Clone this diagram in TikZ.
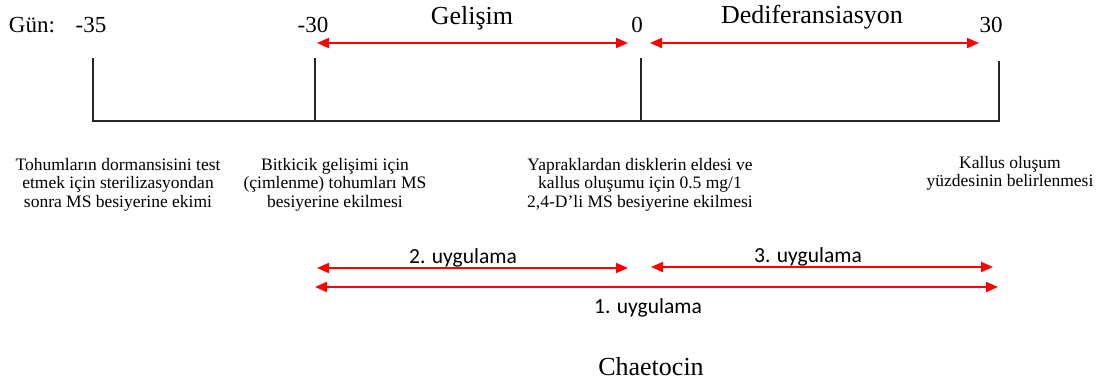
\documentclass[tikz,border=0pt]{standalone}
\usepackage{fontspec}
\setmainfont{Liberation Serif}
\newfontfamily\calibrifont{Carlito}
\usetikzlibrary{arrows.meta}
\begin{document}
\begin{tikzpicture}[x=1pt,y=-1pt,
  tickline/.style={line width=1.2pt,black!85},
  span/.style={red,line width=2pt,{Triangle[length=12pt,width=10pt]}-{Triangle[length=12pt,width=10pt]}},
  daylbl/.style={font=\fontsize{23}{26}\selectfont,anchor=base,inner sep=0},
  phase/.style={font=\fontsize{26}{30}\selectfont,anchor=base,inner sep=0},
  note/.style={font=\fontsize{17.5}{18.5}\selectfont,align=center,anchor=north,inner sep=0},
  app/.style={font=\calibrifont\fontsize{21.5}{24}\selectfont,anchor=base,inner sep=0}]
\useasboundingbox (0,0) rectangle (1098,385);
% day labels
\node[daylbl] (gun) at (32,33) {Gün:};
\node[daylbl] (d35) at (91,33) {-35};
\node[daylbl] (d30) at (313,33) {-30};
\node[daylbl] (d0) at (637,33) {0};
\node[daylbl] (d30p) at (991,33) {30};
\node[phase] (gel) at (472,25) {Gelişim};
\node[phase] (ded) at (812,24) {Dediferansiasyon};
% timeline
\coordinate (t1) at (93,58);  \coordinate (b1) at (93,121);
\coordinate (t2) at (315,58); \coordinate (b2) at (315,121);
\coordinate (t3) at (641,58); \coordinate (b3) at (641,121);
\coordinate (t4) at (999,61); \coordinate (b4) at (999,121);
\draw[tickline] (t1) -- (b1) -- (b4) -- (t4);
\draw[tickline] (t2) -- (b2);
\draw[tickline] (t3) -- (b3);
% phase arrows
\coordinate (g1) at (317,43); \coordinate (g2) at (628,43);
\coordinate (e1) at (650,43); \coordinate (e2) at (979,43);
\draw[span] (g1) -- (g2);
\draw[span] (e1) -- (e2);
% notes
\node[note] (n1) at (118,158) {Tohumların dormansisini test\\etmek için sterilizasyondan\\sonra MS besiyerine ekimi};
\node[note] (n2) at (335,158) {Bitkicik gelişimi için\\(çimlenme) tohumları MS\\besiyerine ekilmesi};
\node[note] (n3) at (640,158) {Yapraklardan disklerin eldesi ve\\kallus oluşumu için 0.5 mg/1\\2,4-D’li MS besiyerine ekilmesi};
\node[note] (n4) at (1010,156) {Kallus oluşum\\yüzdesinin belirlenmesi};
% applications
\coordinate (a2l) at (317,268); \coordinate (a2r) at (628,268);
\coordinate (a3l) at (651,267); \coordinate (a3r) at (993,267);
\coordinate (a1l) at (315,287); \coordinate (a1r) at (998,287);
\draw[span] (a2l) -- (a2r);
\draw[span] (a3l) -- (a3r);
\draw[span] (a1l) -- (a1r);
\node[app] (u2) at (463,263) {2. uygulama};
\node[app] (u3) at (808,262) {3. uygulama};
\node[app] (u1) at (648,313) {1. uygulama};
\node[phase] (chae) at (651,375) {Chaetocin};
\end{tikzpicture}
\end{document}
